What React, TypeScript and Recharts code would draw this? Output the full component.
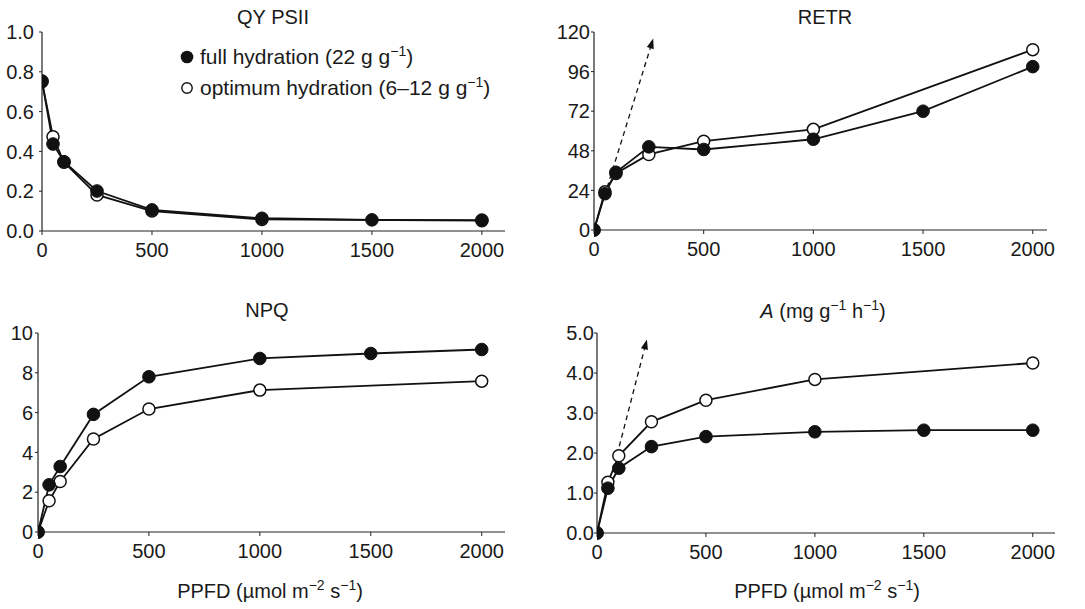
import React from "react";
import { LineChart, Line, XAxis, YAxis, ReferenceLine } from "recharts";

const PPFD = [0, 50, 100, 250, 500, 1000, 1500, 2000];
const X_TICKS = [0, 500, 1000, 1500, 2000];

const qyFull = [0.754, 0.437, 0.348, 0.201, 0.106, 0.064, 0.056, 0.055];
const qyOpt = [0.75, 0.474, 0.345, 0.181, 0.1, 0.058, null, 0.052];
const retrFull = [0, 22, 35, 50.4, 48.8, 55, 72, 99];
const retrOpt = [0, 23.2, 34.3, 45.8, 53.8, 61, null, 109.3];
const npqFull = [0, 2.37, 3.29, 5.91, 7.8, 8.72, 8.97, 9.17];
const npqOpt = [0, 1.57, 2.54, 4.67, 6.18, 7.13, null, 7.58];
const aFull = [0, 1.12, 1.62, 2.16, 2.41, 2.53, 2.57, 2.57];
const aOpt = [0, 1.27, 1.93, 2.78, 3.32, 3.84, null, 4.25];

const qyTicks = [0, 0.2, 0.4, 0.6, 0.8, 1.0];
const retrTicks = [0, 24, 48, 72, 96, 120];
const npqTicks = [0, 2, 4, 6, 8, 10];
const aTicks = [0, 1, 2, 3, 4, 5];

// initial-slope arrows (start, tip)
const retrArrow = [{ x: 60, y: 25.8 }, { x: 270, y: 116 }];
const aArrow = [{ x: 92, y: 1.95 }, { x: 229, y: 4.84 }];

const FONT = "'Liberation Sans', Arial, Helvetica, sans-serif";
const INK = "#111";
const FS = 20;

const build = (full: (number | null)[], opt: (number | null)[]) =>
  PPFD.map((p, i) => ({ ppfd: p, full: full[i], opt: opt[i] }));

const Sup = ({ children }: { children: React.ReactNode }) => (
  <span style={{ fontSize: 14, verticalAlign: "super", lineHeight: 0 }}>{children}</span>
);

const ArrowShape = (p: any) => {
  const { x1, y1, x2, y2 } = p;
  const ang = Math.atan2(y2 - y1, x2 - x1);
  const len = 10;
  const hw = 3.6;
  const bx = x2 - len * Math.cos(ang);
  const by = y2 - len * Math.sin(ang);
  const nx = -Math.sin(ang) * hw;
  const ny = Math.cos(ang) * hw;
  return (
    <g>
      <line x1={x1} y1={y1} x2={bx} y2={by} stroke={INK} strokeWidth={1.3} strokeDasharray="5 4" />
      <polygon points={`${x2},${y2} ${bx + nx},${by + ny} ${bx - nx},${by - ny}`} fill={INK} />
    </g>
  );
};

type PanelProps = {
  left: number;
  top: number;
  width: number;
  height: number;
  plot: { l: number; t: number; r: number; b: number };
  xMax: number;
  yDomain: [number, number];
  yTicks: number[];
  fmt: (v: number) => string;
  yTickMargin: number;
  data: any[];
  arrow?: { x: number; y: number }[];
};

function Panel(p: PanelProps) {
  const xh = 40;
  return (
    <div style={{ position: "absolute", left: p.left, top: p.top }}>
      <LineChart
        width={p.width}
        height={p.height}
        data={p.data}
        margin={{ top: p.plot.t, right: p.width - p.plot.r, left: 0, bottom: p.height - p.plot.b - xh }}
      >
        <XAxis
          dataKey="ppfd"
          type="number"
          domain={[0, p.xMax]}
          ticks={X_TICKS}
          allowDataOverflow
          height={xh}
          tickSize={4}
          tickMargin={8}
          axisLine={{ stroke: "#222", strokeWidth: 1.2 }}
          tickLine={{ stroke: "#222" }}
          tick={{ fill: "#1a1a1a", fontSize: FS, fontFamily: FONT }}
        />
        <XAxis
          xAxisId="top"
          orientation="top"
          type="number"
          domain={[0, p.xMax]}
          height={0}
          tick={false}
          tickLine={false}
          axisLine={{ stroke: "#666", strokeWidth: 1 }}
        />
        <YAxis
          type="number"
          domain={p.yDomain}
          ticks={p.yTicks}
          width={p.plot.l}
          tickSize={3}
          tickMargin={p.yTickMargin}
          tickFormatter={p.fmt}
          interval={0}
          axisLine={{ stroke: "#222", strokeWidth: 1.2 }}
          tickLine={{ stroke: "#222" }}
          tick={{ fill: "#1a1a1a", fontSize: FS, fontFamily: FONT }}
        />
        <YAxis
          yAxisId="right"
          orientation="right"
          type="number"
          domain={p.yDomain}
          width={0}
          tick={false}
          tickLine={false}
          axisLine={{ stroke: "#666", strokeWidth: 1 }}
        />
        {p.arrow && (
          <ReferenceLine segment={p.arrow} ifOverflow="visible" shape={ArrowShape} />
        )}
        <Line
          dataKey="opt"
          stroke={INK}
          strokeWidth={1.8}
          connectNulls
          isAnimationActive={false}
          dot={{ r: 6, fill: "#fff", stroke: INK, strokeWidth: 1.5 }}
        />
        <Line
          dataKey="full"
          stroke={INK}
          strokeWidth={1.8}
          isAnimationActive={false}
          dot={{ r: 6.3, fill: INK, stroke: INK, strokeWidth: 1 }}
        />
      </LineChart>
    </div>
  );
}

const textBase: React.CSSProperties = {
  position: "absolute",
  fontFamily: FONT,
  fontSize: FS,
  lineHeight: "20px",
  color: "#1a1a1a",
  whiteSpace: "nowrap",
  transform: "translateX(-50%)",
};

const f1 = (v: number) => v.toFixed(1);
const f0 = (v: number) => String(v);

export default function App() {
  return (
    <div
      style={{
        position: "absolute",
        left: 0,
        top: 0,
        width: 1085,
        height: 609,
        background: "#fff",
        fontFamily: FONT,
      }}
    >
      <Panel
        left={0}
        top={0}
        width={540}
        height={270}
        plot={{ l: 42, t: 32, r: 505, b: 231 }}
        xMax={2105}
        yDomain={[0, 1]}
        yTicks={qyTicks}
        fmt={f1}
        yTickMargin={5}
        data={build(qyFull, qyOpt)}
      />
      <Panel
        left={540}
        top={0}
        width={545}
        height={270}
        plot={{ l: 54, t: 32, r: 507, b: 230 }}
        xMax={2065}
        yDomain={[0, 120]}
        yTicks={retrTicks}
        fmt={f0}
        yTickMargin={1}
        data={build(retrFull, retrOpt)}
        arrow={retrArrow}
      />
      <Panel
        left={0}
        top={290}
        width={540}
        height={319}
        plot={{ l: 38, t: 43, r: 505, b: 242 }}
        xMax={2105}
        yDomain={[0, 10]}
        yTicks={npqTicks}
        fmt={f0}
        yTickMargin={2}
        data={build(npqFull, npqOpt)}
      />
      <Panel
        left={540}
        top={290}
        width={545}
        height={319}
        plot={{ l: 57, t: 43, r: 515, b: 243 }}
        xMax={2102}
        yDomain={[0, 5]}
        yTicks={aTicks}
        fmt={f1}
        yTickMargin={0}
        data={build(aFull, aOpt)}
        arrow={aArrow}
      />

      <div style={{ ...textBase, left: 273, top: 7 }}>QY PSII</div>
      <div style={{ ...textBase, left: 825, top: 7 }}>RETR</div>
      <div style={{ ...textBase, left: 267, top: 300 }}>NPQ</div>
      <div style={{ ...textBase, left: 823, top: 301 }}>
        <i>A</i> (mg g<Sup>−1</Sup> h<Sup>−1</Sup>)
      </div>
      <div style={{ ...textBase, left: 270, top: 581 }}>
        PPFD (µmol m<Sup>−2</Sup> s<Sup>−1</Sup>)
      </div>
      <div style={{ ...textBase, left: 827, top: 581 }}>
        PPFD (µmol m<Sup>−2</Sup> s<Sup>−1</Sup>)
      </div>

      <div style={{ position: "absolute", left: 179, top: 41, fontSize: 21, lineHeight: "31px", color: "#1a1a1a", whiteSpace: "nowrap" }}>
        <div style={{ display: "flex", alignItems: "center" }}>
          <svg width={16} height={16} style={{ marginRight: 5 }}>
            <circle cx={8} cy={8} r={6.3} fill={INK} />
          </svg>
          <span>full hydration (22 g g<Sup>−1</Sup>)</span>
        </div>
        <div style={{ display: "flex", alignItems: "center" }}>
          <svg width={16} height={16} style={{ marginRight: 5 }}>
            <circle cx={8} cy={8} r={5.2} fill="#fff" stroke={INK} strokeWidth={1.4} />
          </svg>
          <span>optimum hydration (6–12 g g<Sup>−1</Sup>)</span>
        </div>
      </div>
    </div>
  );
}
